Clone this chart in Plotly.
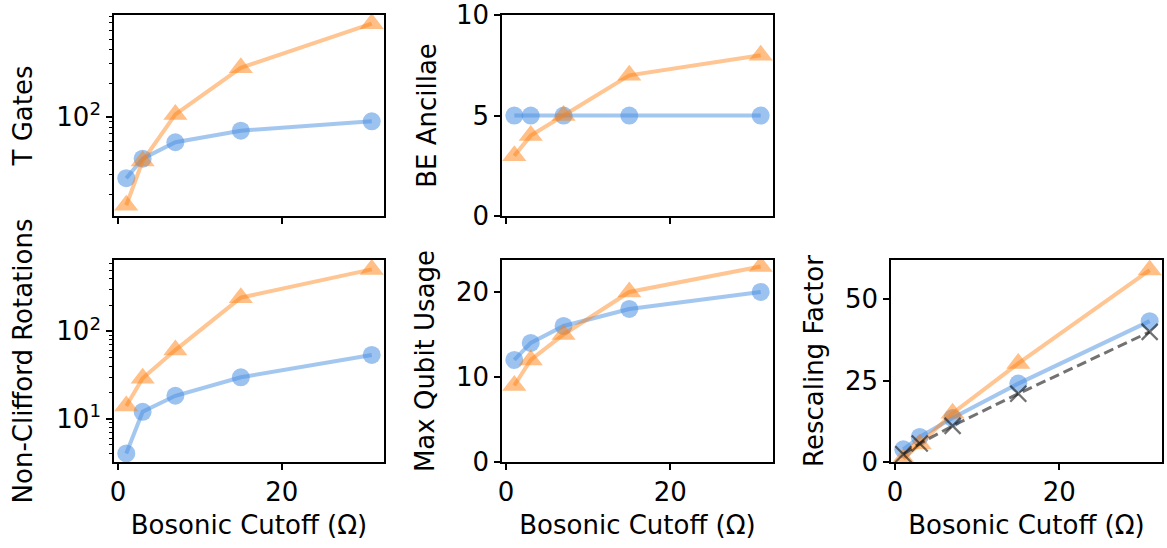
import plotly.graph_objects as go

# Bosonic cutoff values shared by every panel
cutoff = [1, 3, 7, 15, 31]

# T gate counts
t_gates_a = [28, 42, 59, 75, 91]
t_gates_b = [16, 40, 105, 276, 689]

# Block-encoding ancillae
be_anc_a = [5, 5, 5, 5, 5]
be_anc_b = [3, 4, 5, 7, 8]

# Non-Clifford rotations
rot_a = [4, 12, 18.3, 29.8, 53.7]
rot_b = [14, 29, 61, 243, 512]

# Maximum qubit usage
qubits_a = [12, 14, 16, 18, 20]
qubits_b = [9, 12, 15, 20, 23]

# Rescaling factor
rescale_a = [3.9, 7.7, 13.5, 24.1, 43.3]
rescale_b = [1, 5.5, 15, 30.3, 59]
rescale_ref = [2.4, 5.7, 11.1, 21, 40]

BLUE_LINE = "rgba(74,144,226,0.5)"
BLUE_MARK = "rgba(74,144,226,0.55)"
ORANGE_LINE = "rgba(255,127,14,0.45)"
ORANGE_MARK = "rgba(255,127,14,0.5)"
GRAY = "rgba(20,20,20,0.6)"

FONT = "DejaVu Sans"
FS = 26
W, H = 1167, 548


def xdom(x0, x1):
    return [x0 / W, x1 / W]


def ydom(top, bottom):
    return [1 - bottom / H, 1 - top / H]


fig = go.Figure()


def add_pair(ax, ya, yb):
    xa, yax = ("x", "y") if ax == 1 else (f"x{ax}", f"y{ax}")
    fig.add_trace(go.Scatter(
        x=cutoff, y=ya, xaxis=xa, yaxis=yax, mode="lines+markers",
        line=dict(color=BLUE_LINE, width=4),
        marker=dict(symbol="circle", size=18, color=BLUE_MARK, line=dict(width=0)),
        showlegend=False,
    ))
    fig.add_trace(go.Scatter(
        x=cutoff, y=yb, xaxis=xa, yaxis=yax, mode="lines+markers",
        line=dict(color=ORANGE_LINE, width=4),
        marker=dict(symbol="triangle-up", size=21, color=ORANGE_MARK, line=dict(width=0)),
        showlegend=False,
    ))


add_pair(1, t_gates_a, t_gates_b)
add_pair(2, be_anc_a, be_anc_b)
add_pair(3, rot_a, rot_b)
add_pair(4, qubits_a, qubits_b)
add_pair(5, rescale_a, rescale_b)

fig.add_trace(go.Scatter(
    x=cutoff, y=rescale_ref, xaxis="x5", yaxis="y5", mode="lines+markers",
    line=dict(color=GRAY, width=3, dash="10px,5px"),
    marker=dict(symbol="x-thin", size=16, color=GRAY, line=dict(width=2.2, color=GRAY)),
    showlegend=False,
))

axis_common = dict(
    showline=True, mirror=True, linecolor="black", linewidth=1.6,
    ticks="outside", ticklen=6, tickwidth=1.6, tickcolor="black",
    showgrid=False, zeroline=False, automargin=False,
    ticklabeloverflow="allow",
    tickfont=dict(family=FONT, size=FS, color="black"),
    title_font=dict(family=FONT, size=FS, color="black"),
)

cols = [xdom(114, 384), xdom(502, 773), xdom(891, 1162)]
top_row = ydom(15, 216)
bot_row = ydom(260, 462)

xrange = [-0.5, 32.5]
xlabel = "Bosonic Cutoff (Ω)"

layout = dict(
    width=W, height=H, margin=dict(l=0, r=0, t=0, b=0),
    paper_bgcolor="white", plot_bgcolor="white",
    font=dict(family=FONT, size=FS, color="black"),
    template="none", showlegend=False,
)

# x axes
x_specs = {
    "xaxis": (cols[0], "y", False),
    "xaxis2": (cols[1], "y2", False),
    "xaxis3": (cols[0], "y3", True),
    "xaxis4": (cols[1], "y4", True),
    "xaxis5": (cols[2], "y5", True),
}
for name, (dom, anchor, labelled) in x_specs.items():
    ax = dict(axis_common, domain=dom, anchor=anchor, range=xrange,
              tickvals=[0, 20], showticklabels=labelled)
    if labelled:
        ax["title"] = dict(text=xlabel, standoff=10)
    layout[name] = ax

minor_common = dict(ticks="outside", ticklen=3.5, tickwidth=1.2, tickcolor="black", showgrid=False)

layout["yaxis"] = dict(
    axis_common, domain=top_row, anchor="x", type="log", range=[1.107, 2.916],
    tickvals=[100], ticktext=["10<sup>2</sup>"],
    minor=dict(minor_common, tickvals=[20, 30, 40, 50, 60, 70, 80, 90,
                                       200, 300, 400, 500, 600, 700, 800]),
    title=dict(text="T Gates", standoff=16),
)
layout["yaxis2"] = dict(
    axis_common, domain=top_row, anchor="x2", range=[0, 10.002],
    tickvals=[0, 5, 10], title=dict(text="BE Ancillae", standoff=12),
)
layout["yaxis3"] = dict(
    axis_common, domain=bot_row, anchor="x3", type="log", range=[0.504, 2.817],
    tickvals=[10, 100], ticktext=["10<sup>1</sup>", "10<sup>2</sup>"],
    minor=dict(minor_common, tickvals=[4, 5, 6, 7, 8, 9, 20, 30, 40, 50, 60, 70, 80, 90,
                                       200, 300, 400, 500, 600]),
    title=dict(text="Non-Clifford Rotations", standoff=16),
)
layout["yaxis4"] = dict(
    axis_common, domain=bot_row, anchor="x4", range=[0, 23.76],
    tickvals=[0, 10, 20], title=dict(text="Max Qubit Usage", standoff=14),
)
layout["yaxis5"] = dict(
    axis_common, domain=bot_row, anchor="x5", range=[0, 62.1],
    tickvals=[0, 25, 50], title=dict(text="Rescaling Factor", standoff=14),
)

fig.update_layout(**layout)
fig.write_html("out.html")
